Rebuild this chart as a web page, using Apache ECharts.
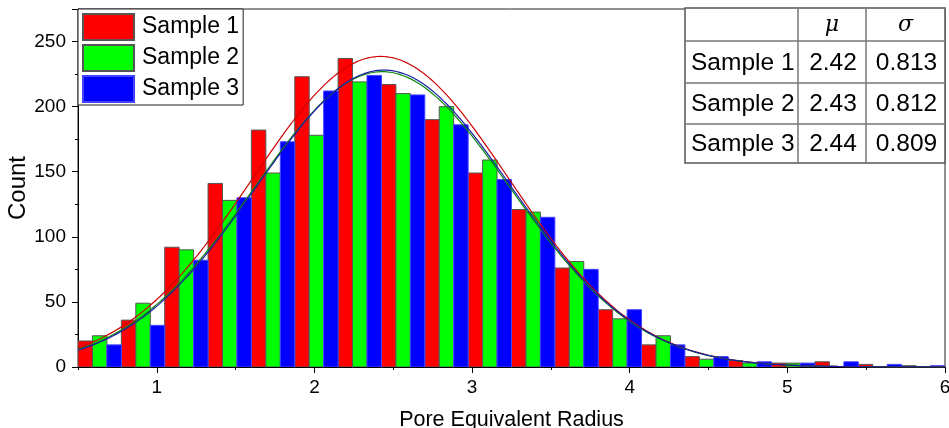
<!DOCTYPE html>
<html>
<head>
<meta charset="utf-8">
<script src="https://cdn.jsdelivr.net/npm/echarts@6/dist/echarts.min.js"></script>
<style>
  html, body { margin: 0; padding: 0; background: #fff; }
  #chart { width: 949px; height: 428px; }
</style>
</head>
<body>
<div id="chart"></div>
<script>
// ---- data ----
const binStart = 0.5;
const binWidth = 0.275;
const seriesNames = ['Sample 1', 'Sample 2', 'Sample 3'];
const sample1 = [20, 36, 92, 141, 182, 223, 237, 217, 190, 149, 121, 76, 44, 17, 8, 5, 3, 4, 2, 1];
const sample2 = [24, 49, 90, 128, 149, 178, 219, 210, 200, 159, 119, 81, 37, 24, 6, 3, 3, 0, 0, 0];
const sample3 = [17, 32, 82, 130, 173, 212, 224, 209, 186, 144, 115, 75, 44, 17, 8, 4, 3, 4, 2, 1];
const muValues = [2.42, 2.43, 2.44];
const sigmaValues = [0.813, 0.812, 0.809];
const muText = ['2.42', '2.43', '2.44'];
const sigmaText = ['0.813', '0.812', '0.809'];
const xTicks = [1, 2, 3, 4, 5, 6];
const xMinorTicks = [0.5, 1.5, 2.5, 3.5, 4.5, 5.5];
const xMin = 0.5, xMax = 6;
const yMin = 0, yMax = 275, yInterval = 50;

// ---- styles ----
const barColors = ['#ff0000', '#00ff00', '#0000ff'];
const barBorders = ['#555555', '#555555', '#4444ff'];
const curveColors = ['#cc0000', '#0a8a0a', '#1c1ca8'];
const FONT = '"Liberation Sans", Arial, sans-serif';

const samples = [sample1, sample2, sample3];

function barData(counts, k) {
  return counts.map((v, i) => {
    const x0 = binStart + binWidth * i + binWidth * k / 3;
    return [x0, x0 + binWidth / 3, v];
  });
}

function fitCurve(counts, mu, sigma) {
  const n = counts.reduce((a, b) => a + b, 0);
  const scale = n * binWidth / (sigma * Math.sqrt(2 * Math.PI));
  const pts = [];
  for (let x = xMin; x <= xMax + 1e-9; x += 0.02) {
    pts.push([x, scale * Math.exp(-0.5 * Math.pow((x - mu) / sigma, 2))]);
  }
  return pts;
}

const chart = echarts.init(document.getElementById('chart'));

const series = [];
samples.forEach((counts, k) => {
  series.push({
    name: seriesNames[k],
    type: 'custom',
    xAxisIndex: 0,
    yAxisIndex: 0,
    clip: true,
    itemStyle: { color: barColors[k], borderColor: barBorders[k], borderWidth: 1 },
    encode: { x: [0, 1], y: 2 },
    data: barData(counts, k),
    renderItem: function (params, api) {
      const p0 = api.coord([api.value(0), api.value(2)]);
      const p1 = api.coord([api.value(1), 0]);
      return {
        type: 'rect',
        shape: { x: p0[0], y: p0[1], width: p1[0] - p0[0], height: p1[1] - p0[1] },
        style: { fill: barColors[k], stroke: barBorders[k], lineWidth: api.value(2) > 0 ? 1 : 0 }
      };
    },
    z: 2
  });
});
samples.forEach((counts, k) => {
  series.push({
    name: 'fit ' + seriesNames[k],
    type: 'line',
    xAxisIndex: 0,
    yAxisIndex: 0,
    showSymbol: false,
    smooth: false,
    lineStyle: { color: curveColors[k], width: 1.2 },
    data: fitCurve(counts, muValues[k], sigmaValues[k]),
    z: 3
  });
});

// table drawn as graphic
const colX = [685, 798, 866, 945];
const rowY = [8, 41, 83, 124, 163];
const tableElems = [];
tableElems.push({ type: 'rect', shape: { x: colX[0], y: rowY[0], width: colX[3] - colX[0], height: rowY[4] - rowY[0] },
  style: { fill: '#fff', stroke: '#555', lineWidth: 1.5 }, z: 100 });
for (let r = 1; r < 4; r++) {
  tableElems.push({ type: 'line', shape: { x1: colX[0], y1: rowY[r], x2: colX[3], y2: rowY[r] },
    style: { stroke: '#777', lineWidth: 1.5 }, z: 101 });
}
for (let c = 1; c < 3; c++) {
  tableElems.push({ type: 'line', shape: { x1: colX[c], y1: rowY[0], x2: colX[c], y2: rowY[4] },
    style: { stroke: '#777', lineWidth: 1.5 }, z: 101 });
}
const headers = ['μ', 'σ'];
headers.forEach((h, i) => {
  tableElems.push({ type: 'text', x: (colX[i + 1] + colX[i + 2]) / 2, y: (rowY[0] + rowY[1]) / 2 + 1,
    style: { text: h, font: 'italic 22px "DejaVu Serif", "Liberation Serif", serif', fill: '#000', align: 'center', verticalAlign: 'middle' }, z: 102 });
});
seriesNames.forEach((nm, r) => {
  const cy = (rowY[r + 1] + rowY[r + 2]) / 2 + 1;
  tableElems.push({ type: 'text', x: colX[0] + 6, y: cy,
    style: { text: nm, font: '24.5px ' + FONT, fill: '#000', align: 'left', verticalAlign: 'middle' }, z: 102 });
  tableElems.push({ type: 'text', x: (colX[1] + colX[2]) / 2 + 1, y: cy,
    style: { text: muText[r], font: '24.5px ' + FONT, fill: '#000', align: 'center', verticalAlign: 'middle' }, z: 102 });
  tableElems.push({ type: 'text', x: (colX[2] + colX[3]) / 2 + 1, y: cy,
    style: { text: sigmaText[r], font: '24.5px ' + FONT, fill: '#000', align: 'center', verticalAlign: 'middle' }, z: 102 });
});

const option = {
  animation: false,
  backgroundColor: '#fff',
  textStyle: { fontFamily: FONT },
  grid: { left: 78, right: 4, top: 9, bottom: 61, show: true, borderColor: '#222', borderWidth: 1,
    containLabel: false, outerBoundsMode: 'none' },
  legend: {
    data: seriesNames,
    orient: 'vertical',
    left: 78,
    top: 9,
    itemWidth: 51,
    itemHeight: 26,
    itemGap: 3,
    padding: [4, 4, 2, 4],
    borderColor: '#222',
    borderWidth: 1,
    backgroundColor: '#fff',
    icon: 'rect',
    textStyle: { fontSize: 23, color: '#000', fontFamily: FONT, padding: [0, 0, 0, 3] },
    z: 50
  },
  xAxis: [
    {
      type: 'value', min: xMin, max: xMax,
      name: 'Pore Equivalent Radius', nameLocation: 'middle', nameGap: 42,
      nameTextStyle: { fontSize: 21.5, color: '#000', fontFamily: FONT },
      axisLine: { show: true, onZero: false, lineStyle: { color: '#000', width: 1 } },
      axisTick: { show: true, length: 6, customValues: xTicks, lineStyle: { color: '#000' } },
      axisLabel: { show: true, customValues: xTicks, fontSize: 19, color: '#000', margin: 11, fontFamily: FONT },
      splitLine: { show: false }
    },
    {
      type: 'value', min: xMin, max: xMax, position: 'bottom',
      axisLine: { show: false },
      axisTick: { show: true, length: 3, customValues: xMinorTicks, lineStyle: { color: '#000' } },
      axisLabel: { show: false },
      splitLine: { show: false }
    }
  ],
  yAxis: {
    type: 'value', min: yMin, max: yMax, interval: yInterval,
    name: 'Count', nameLocation: 'middle', nameGap: 48, nameMoveOverlap: false,
    nameTextStyle: { fontSize: 24, color: '#000', fontFamily: FONT },
    axisLine: { show: true, lineStyle: { color: '#000', width: 1 } },
    axisTick: { show: true, length: 6, lineStyle: { color: '#000' } },
    minorTick: { show: true, splitNumber: 2, length: 3, lineStyle: { color: '#000' } },
    axisLabel: { fontSize: 19, color: '#000', margin: 12, fontFamily: FONT,
      formatter: v => (v % 50 === 0 ? String(v) : '') },
    splitLine: { show: false }
  },
  series: series,
  graphic: { elements: tableElems }
};
chart.setOption(option);
</script>
</body>
</html>
